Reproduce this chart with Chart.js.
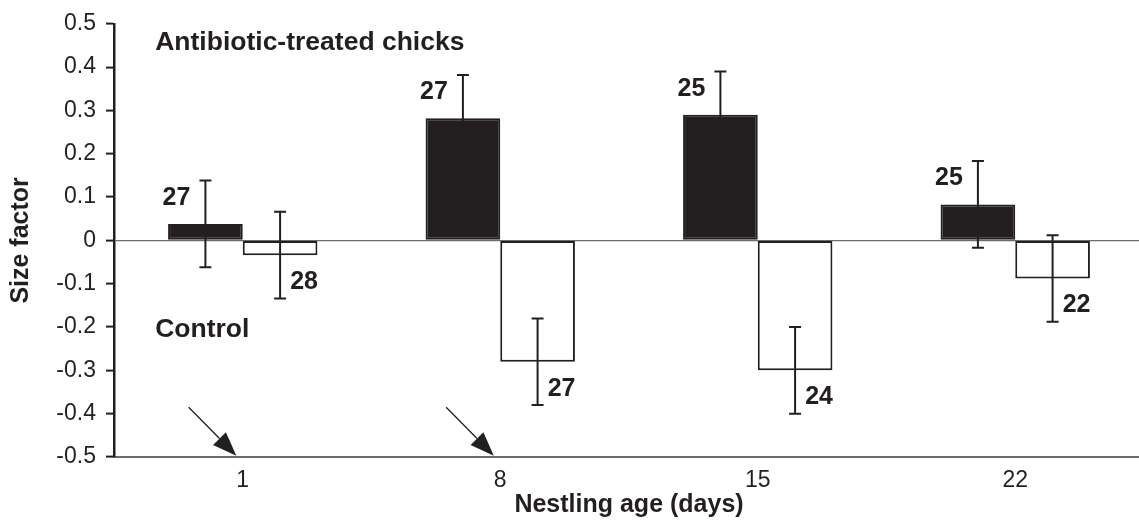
<!DOCTYPE html>
<html>
<head>
<meta charset="utf-8">
<script src="https://cdn.jsdelivr.net/npm/chart.js@4/dist/chart.umd.min.js"></script>
<style>
  html, body { margin: 0; padding: 0; background: #fff; overflow: hidden; }
  #wrap { width: 1144px; height: 520px; }
</style>
</head>
<body>
<div id="wrap"><canvas id="c" width="1144" height="520"></canvas></div>
<script>
// ---- data ----
const categories = ['1', '8', '15', '22'];          // nestling age (days)
const treatedValues = [0.038, 0.282, 0.29, 0.083];    // antibiotic-treated chicks
const controlValues = [-0.034, -0.28, -0.30, -0.088]; // control chicks
const treatedErrors = [0.10, 0.10, 0.10, 0.10];
const controlErrors = [0.10, 0.10, 0.10, 0.10];
const treatedN = [27, 27, 25, 25];
const controlN = [28, 27, 24, 22];
const yTicks = [0.5, 0.4, 0.3, 0.2, 0.1, 0, -0.1, -0.2, -0.3, -0.4, -0.5];
// annotations (category index, value)
const arrowStarts = [[-0.21, -0.385], [0.79, -0.385]];
const arrowEnds = [[-0.025, -0.497], [0.975, -0.497]];
const noteLabels = ['Antibiotic-treated chicks', 'Control'];
const noteAnchors = [[-0.34, 0.44], [-0.34, -0.222]];

const INK = '#231f20';
const FONT = '"Liberation Sans", Arial, Helvetica, sans-serif';

const overlay = {
  id: 'overlay',
  afterDatasetsDraw(chart) {
    const ctx = chart.ctx;
    const xs = chart.scales.x, ys = chart.scales.y;
    const sets = [
      { vals: treatedValues, errs: treatedErrors, n: treatedN, meta: chart.getDatasetMeta(0), up: true },
      { vals: controlValues, errs: controlErrors, n: controlN, meta: chart.getDatasetMeta(1), up: false }
    ];
    ctx.save();
    ctx.strokeStyle = INK;
    ctx.lineWidth = 2;
    sets.forEach(s => {
      s.vals.forEach((v, i) => {
        const bar = s.meta.data[i];
        const x = bar.x;
        const yHi = ys.getPixelForValue(v + s.errs[i]);
        const yLo = ys.getPixelForValue(v - s.errs[i]);
        ctx.beginPath();
        ctx.moveTo(x, yHi); ctx.lineTo(x, yLo);
        ctx.moveTo(x - 6, yHi); ctx.lineTo(x + 6, yHi);
        ctx.moveTo(x - 6, yLo); ctx.lineTo(x + 6, yLo);
        ctx.stroke();
        // sample size
        ctx.fillStyle = INK;
        ctx.font = 'bold 25px ' + FONT;
        ctx.textAlign = 'center';
        ctx.textBaseline = 'middle';
        const yEnd = ys.getPixelForValue(v);
        if (s.up) ctx.fillText(String(s.n[i]), x - 29, yEnd - 26);
        else ctx.fillText(String(s.n[i]), x + 24, yEnd + 27);
      });
    });
    // notes
    ctx.font = 'bold 26.5px ' + FONT;
    ctx.textAlign = 'left';
    ctx.textBaseline = 'alphabetic';
    noteLabels.forEach((t, i) => {
      const a = noteAnchors[i];
      const px = xs.getPixelForValue(0) + a[0] * (xs.getPixelForValue(1) - xs.getPixelForValue(0));
      ctx.fillText(t, px, ys.getPixelForValue(a[1]));
    });
    // arrows
    const catPx = c => xs.getPixelForValue(0) + c * (xs.getPixelForValue(1) - xs.getPixelForValue(0));
    arrowStarts.forEach((st, i) => {
      const en = arrowEnds[i];
      const x1 = catPx(st[0]), y1 = ys.getPixelForValue(st[1]);
      const x2 = catPx(en[0]), y2 = ys.getPixelForValue(en[1]);
      const ang = Math.atan2(y2 - y1, x2 - x1);
      const L = 24, W = 9;
      const bx = x2 - L * Math.cos(ang), by = y2 - L * Math.sin(ang);
      ctx.lineWidth = 1.3;
      ctx.beginPath(); ctx.moveTo(x1, y1); ctx.lineTo(bx, by); ctx.stroke();
      ctx.beginPath();
      ctx.moveTo(x2, y2);
      ctx.lineTo(bx + W * Math.sin(ang), by - W * Math.cos(ang));
      ctx.lineTo(bx - W * Math.sin(ang), by + W * Math.cos(ang));
      ctx.closePath();
      ctx.fillStyle = INK;
      ctx.fill();
    });
    ctx.restore();
  }
};

new Chart(document.getElementById('c'), {
  type: 'bar',
  data: {
    labels: categories,
    datasets: [
      { label: 'Antibiotic-treated chicks', data: treatedValues, backgroundColor: INK, borderColor: INK, borderWidth: 2, borderSkipped: false },
      { label: 'Control', data: controlValues, backgroundColor: '#ffffff', borderColor: INK, borderWidth: 2, borderSkipped: false }
    ]
  },
  options: {
    responsive: false,
    animation: false,
    layout: { padding: { top: 20, left: 0, right: 0, bottom: 0 } },
    datasets: { bar: { categoryPercentage: 0.58, barPercentage: 1.0 } },
    plugins: { legend: { display: false }, tooltip: { enabled: false } },
    scales: {
      x: {
        type: 'category',
        grid: { display: false },
        border: { display: true, color: '#6d6d6d', width: 2 },
        ticks: { color: INK, font: { family: FONT, size: 23 }, padding: 2 },
        title: { display: true, text: 'Nestling age (days)', color: INK, font: { family: FONT, size: 25, weight: 'bold' }, padding: { top: 0, bottom: 0 } },
        afterFit(s) { s.height = 63; }
      },
      y: {
        min: -0.5, max: 0.5,
        afterBuildTicks(s) { s.ticks = yTicks.map(v => ({ value: v })); },
        grid: {
          display: true,
          drawOnChartArea: true,
          color: c => (c.tick && Math.abs(c.tick.value) < 1e-9) ? '#6d6d6d' : 'rgba(0,0,0,0)',
          lineWidth: 1.2,
          tickColor: INK,
          tickLength: 8,
          tickWidth: 2
        },
        border: { display: true, color: INK, width: 2.5 },
        ticks: {
          color: INK, font: { family: FONT, size: 23 }, padding: 10,
          callback: v => Math.abs(v) < 1e-9 ? '0' : v.toFixed(1)
        },
        title: { display: true, text: 'Size factor', color: INK, font: { family: FONT, size: 25, weight: 'bold' }, padding: { top: 6, bottom: 0 } },
        afterFit(s) { s.width = 114; }
      }
    }
  },
  plugins: [overlay]
});
</script>
</body>
</html>
